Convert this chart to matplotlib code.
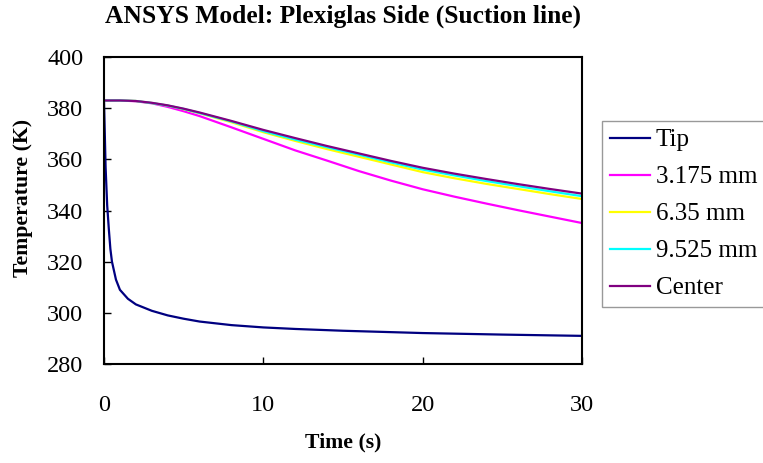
import matplotlib.pyplot as plt
import numpy as np

# data
t_tip = [0, 0.05, 0.1, 0.2, 0.3, 0.4, 0.5, 0.75, 1, 1.5, 2, 3, 4, 5, 6, 8, 10,
         12, 15, 20, 25, 30]
tip = [383, 370, 357, 342, 333, 325, 320, 313, 309, 305.5, 303.3, 300.8, 299,
       297.7, 296.6, 295.2, 294.3, 293.7, 293, 292.1, 291.5, 291]

t = [0, 1, 2, 3, 4, 5, 6, 8, 10, 12, 14, 16, 18, 20, 22, 24, 26, 28, 30]
r3175 = [383, 383, 382.7, 381.9, 380.5, 378.8, 376.9, 372.5, 368, 363.5, 359.5,
         355.4, 351.7, 348.3, 345.4, 342.7, 340.1, 337.6, 335.1]
r635 = [383, 383, 382.8, 382.0, 381.0, 379.6, 378.0, 374.5, 370.6, 367.2, 364.0,
        361.0, 358.0, 355.0, 352.6, 350.4, 348.4, 346.4, 344.5]
r9525 = [383, 383, 382.8, 382.0, 381.0, 379.7, 378.1, 374.8, 371.0, 367.7, 364.7,
         361.8, 358.8, 356.0, 353.7, 351.5, 349.5, 347.5, 345.6]
center = [383, 383, 382.8, 382.1, 381.1, 379.8, 378.3, 375.0, 371.5, 368.3, 365.2,
          362.3, 359.4, 356.7, 354.4, 352.3, 350.3, 348.4, 346.6]

names = ["Tip", "3.175 mm", "6.35 mm", "9.525 mm", "Center"]
colors = ["#000080", "#FF00FF", "#FFFF00", "#00FFFF", "#800080"]

plt.rcParams['font.family'] = ['Liberation Serif', 'DejaVu Serif']

fig = plt.figure(figsize=(7.63, 4.63), dpi=100)
ax = fig.add_axes([0.1363, 0.2138, 0.6265, 0.6631])

series = [(t_tip, tip), (t, r3175), (t, r635), (t, r9525), (t, center)]
for (x, y), name, c in zip(series, names, colors):
    ax.plot(x, y, color=c, lw=1.6, label=name)

ax.set_xlim(0, 30)
ax.set_ylim(280, 400)
ax.set_xticks([0, 10, 20, 30])
ax.set_yticks(np.arange(280, 401, 20))
ax.tick_params(direction='in', length=5, width=1, labelsize=17.5)
ax.tick_params(axis='y', pad=15)
ax.tick_params(axis='x', pad=22)
for s in ax.spines.values():
    s.set_linewidth(1.5)

ax.set_title("ANSYS Model: Plexiglas Side (Suction line)", fontsize=18.4,
             fontweight='bold', pad=25)
ax.set_xlabel("Time (s)", fontsize=15.7, fontweight='bold', labelpad=12)
ax.set_ylabel("Temperature (K)", fontsize=15.7, fontweight='bold')
ax.yaxis.set_label_coords(-0.148, 0.54)

leg = ax.legend(loc='upper left', bbox_to_anchor=(1.042, 0.79), fontsize=18,
                frameon=True, fancybox=False, borderpad=0.3, handlelength=1.6,
                labelspacing=0.58, handletextpad=0.25, borderaxespad=0)
leg.get_frame().set_edgecolor('gray')
leg.get_frame().set_linewidth(1)

fig.savefig("out.png", dpi=100)
